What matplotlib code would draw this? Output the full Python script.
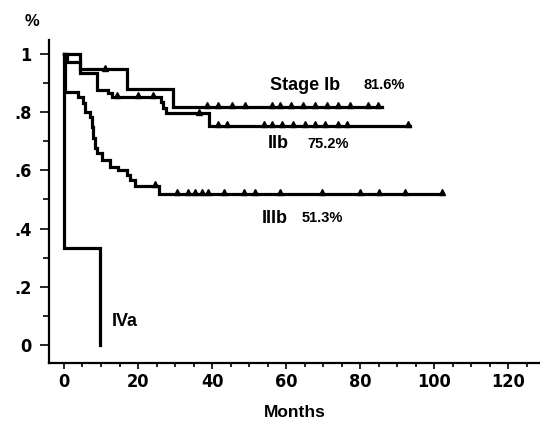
import numpy as np
import matplotlib
matplotlib.use("Agg")
import matplotlib.pyplot as plt
from matplotlib.ticker import MultipleLocator

plt.rcParams['font.family'] = ['Liberation Sans', 'DejaVu Sans']

# ---- survival data (months, proportion) ----
ib_t = [0, 4.3, 17.0, 29.5]
ib_s = [1.0, 0.947, 0.878, 0.818]
ib_end = 85.9
ib_cens = [11.1, 38.6, 41.7, 45.3, 48.9, 56.1, 58.4, 61.4, 64.7, 67.8, 71.0, 74.1, 77.3, 82.2, 84.9]

iib_t = [0, 0.8, 4.3, 9.0, 11.8, 13.0, 26.2, 26.8, 27.5, 39.2]
iib_s = [1.0, 0.974, 0.934, 0.876, 0.865, 0.853, 0.836, 0.813, 0.796, 0.754]
iib_end = 93.5
iib_cens = [14.2, 20.0, 24.1, 36.5, 41.7, 44.0, 53.9, 56.1, 58.8, 62.0, 65.1, 67.8, 70.5, 74.1, 76.4, 93.0]

iiib_t = [0, 0.3, 3.8, 5.2, 5.7, 7.0, 7.5, 7.9, 8.3, 8.9, 10.2, 12.4, 14.7, 16.9, 17.8, 19.2, 25.6]
iiib_s = [1.0, 0.870, 0.853, 0.830, 0.802, 0.785, 0.750, 0.710, 0.676, 0.659, 0.636, 0.613, 0.601, 0.584, 0.567, 0.546, 0.518]
iiib_end = 102.1
iiib_cens = [24.5, 30.5, 33.6, 35.4, 37.2, 39.0, 43.1, 48.5, 51.6, 58.4, 69.6, 80.0, 85.0, 92.2, 102.1]

iva_t = [0, 0.05, 9.8]
iva_s = [1.0, 0.333, 0.0]
iva_end = 9.8

curve_labels = ["Stage Ib", "IIb", "IIIb", "IVa"]
curve_pcts = ["81.6%", "75.2%", "51.3%", ""]

x_ticks = [0, 20, 40, 60, 80, 100, 120]
y_ticks = [0, 0.2, 0.4, 0.6, 0.8, 1.0]
y_ticklabels = ["0", ".2", ".4", ".6", ".8", "1"]

fig = plt.figure(figsize=(5.4, 4.25), dpi=100)
ax = fig.add_axes([49/540, 1-363/425, 491/540, 323/425])


def km(ax, t, s, end, cens):
    tt = list(t) + [end]
    ss = list(s) + [s[-1]]
    ax.step(tt, ss, where='post', color='black', lw=2.3, solid_joinstyle='miter')
    if cens:
        c = np.array(cens)
        idx = np.searchsorted(np.array(t), c, side='right') - 1
        ax.plot(c, np.array(s)[idx] + 0.006, ls='none', marker='^', ms=4.5, color='black')


km(ax, ib_t, ib_s, ib_end, ib_cens)
km(ax, iib_t, iib_s, iib_end, iib_cens)
km(ax, iiib_t, iiib_s, iiib_end, iiib_cens)
km(ax, iva_t, iva_s, iva_end, [])

ax.set_xlim(-4.05, 128.6)
ax.set_ylim(-0.062, 1.048)
for sp in ['top', 'right']:
    ax.spines[sp].set_visible(False)
for sp in ['left', 'bottom']:
    ax.spines[sp].set_linewidth(1.6)

ax.set_xticks(x_ticks)
ax.xaxis.set_minor_locator(MultipleLocator(5))
ax.set_yticks(y_ticks)
ax.set_yticklabels(y_ticklabels)
ax.yaxis.set_minor_locator(MultipleLocator(0.1))
ax.tick_params(axis='y', which='major', length=6.5, width=1.2, pad=6)
ax.tick_params(axis='y', which='minor', length=4, width=1.2)
ax.tick_params(axis='x', which='major', length=4.5, width=1.2, pad=3)
ax.tick_params(axis='x', which='minor', length=3, width=1.2)
for lab in ax.get_xticklabels() + ax.get_yticklabels():
    lab.set_fontfamily('DejaVu Sans')
    lab.set_fontstretch('condensed')
    lab.set_fontweight('bold')
    lab.set_fontsize(13)

ax.set_xlabel("Months", fontsize=12.5, fontweight='bold', labelpad=10)

fig.text(32/540, 1-22/425, "%", fontsize=12, fontweight='bold', ha='center', va='center')

# curve annotations
big = 13
small = 10.5
ax.text(55.7, 0.893, curve_labels[0], fontsize=big, fontweight='bold', ha='left', va='center')
ax.text(80.8, 0.893, curve_pcts[0], fontsize=small, fontweight='bold', ha='left', va='center')
ax.text(55.1, 0.691, curve_labels[1], fontsize=big, fontweight='bold', ha='left', va='center')
ax.text(65.7, 0.691, curve_pcts[1], fontsize=small, fontweight='bold', ha='left', va='center')
ax.text(53.5, 0.436, curve_labels[2], fontsize=big, fontweight='bold', ha='left', va='center')
ax.text(64.3, 0.436, curve_pcts[2], fontsize=small, fontweight='bold', ha='left', va='center')
ax.text(13.0, 0.079, curve_labels[3], fontsize=big, fontweight='bold', ha='left', va='center')

fig.savefig("out.png", dpi=100)
